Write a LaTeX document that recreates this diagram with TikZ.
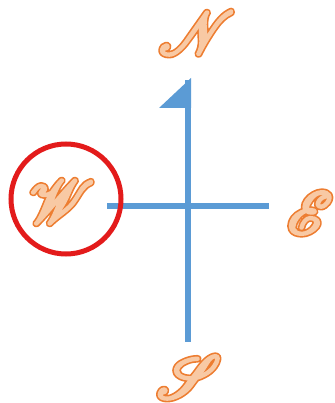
\documentclass[tikz,border=0pt]{standalone}
\usepackage{amsmath}
\usepackage{mathrsfs}
\usepackage{graphicx}
\usepackage{tikz}

\definecolor{compassblue}{HTML}{5B9BD5}
\definecolor{letterline}{HTML}{ED7D31}
\definecolor{letterfill}{HTML}{F8C9A4}
\definecolor{ringred}{HTML}{E31B1B}

% thick outlined script letter: dark stroke below, light fill and stroke on top
\newcommand{\dirletter}[1]{\scalebox{6}{\rlap{\color{letterline}\special{pdf:code 1 Tr 1 j 1.05 w}$\mathscr{#1}$\special{pdf:code 0 Tr}}\color{letterfill}\special{pdf:code 2 Tr 1 j 0.5 w}$\mathscr{#1}$\special{pdf:code 0 Tr}}}

\begin{document}
\begin{tikzpicture}[x=1pt,y=-1pt]
		\tikzset{axis/.style={line width=6pt,compassblue}};
		\tikzset{dir/.style={inner sep=0pt}};
		\useasboundingbox (0,0) rectangle (334,403);
		\coordinate (top) at (188,80);
		\coordinate (bottom) at (188,342);
		\coordinate (left) at (107,206);
		\coordinate (right) at (269,206);
		\draw[axis] (top) -- (bottom);
		\draw[axis] (left) -- (right);
		\fill[compassblue] (159,108) -- (191,78) -- (191,108) -- cycle;
		
		\draw[] (197,33) node[dir] (north) {\dirletter{N}};
		\draw[] (310,213) node[dir] (east) {\dirletter{E}};
		\draw[] (189,377) node[dir] (south) {\dirletter{S}};
		\draw[] (62,202) node[dir] (west) {\dirletter{W}};
		
		\draw[ringred, line width=5pt] (66,199) circle(55);
	\end{tikzpicture}
\end{document}
